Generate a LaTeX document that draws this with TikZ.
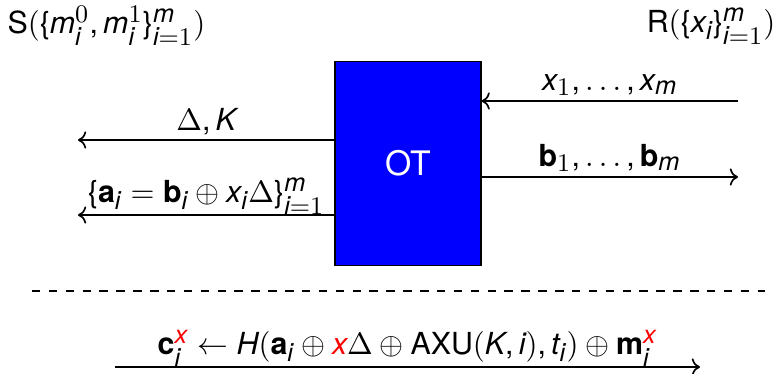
\documentclass[tikz,border=0pt]{standalone}
\usepackage{amsmath}
\usepackage{amssymb}
\usepackage{fontspec}
\setmainfont{TeX Gyre Heros}
\usepackage[italic]{mathastext}
\usepackage{xcolor}
\usetikzlibrary{arrows.meta,positioning}

\newcommand{\msgfont}{\fontsize{10.8}{13}\selectfont}

\begin{document}
\begin{tikzpicture}[
    x=0.0125cm, y=-0.0125cm,
    party/.style={inner sep=0pt, font=\msgfont},
    otbox/.style={draw, fill=blue, text=white, font=\large, minimum width=1.825cm, minimum height=2.56cm, inner sep=0pt},
    msg/.style={->, semithick},
    lbl/.style={above, inner sep=1.5pt, font=\msgfont}
]
\useasboundingbox (0,0) rectangle (784,373);

\node[party, anchor=west] (sndr) at (7,26) {S$(\{m_i^0, m_i^1\}_{i=1}^m)$};
\node[party, anchor=east] (rcvr) at (776,26) {R$(\{x_i\}_{i=1}^m)$};

\node[otbox] (ot) at (408,163.5) {OT};

% end points of the messages
\coordinate (dk) at (78,140);
\coordinate (ab) at (78,215);
\coordinate (xin) at (738,101);
\coordinate (bout) at (738,177);

\draw[msg] (ot.west |- dk) -- node[lbl] (dklbl) {$\Delta, K$} (dk);
\draw[msg] (ot.west |- ab) -- node[lbl, inner sep=0pt] (ablbl) {$\{\mathbf{a}_i = \mathbf{b}_i \oplus x_i\Delta\}_{i=1}^m$} (ab);
\draw[msg] (xin) -- node[lbl] (xlbl) {$x_1, \ldots, x_m$} (ot.east |- xin);
\draw[msg] (ot.east |- bout) -- node[lbl] (blbl) {$\mathbf{b}_1, \ldots, \mathbf{b}_m$} (bout);

\coordinate (dl) at (32,291);
\coordinate (dr) at (765,291);
\draw[semithick, dashed] (dl) -- (dr);

\coordinate (cl) at (115,367);
\coordinate (cr) at (700,367);
\draw[msg] (cl) -- node[lbl, inner sep=0pt] (clbl) {$\mathbf{c}_i^{\textcolor{red}{x}} \leftarrow H(\mathbf{a}_i \oplus \textcolor{red}{x}\Delta \oplus \mathrm{AXU}(K,i), t_i) \oplus \mathbf{m}_i^{\textcolor{red}{x}}$} (cr);
\end{tikzpicture}
\end{document}
